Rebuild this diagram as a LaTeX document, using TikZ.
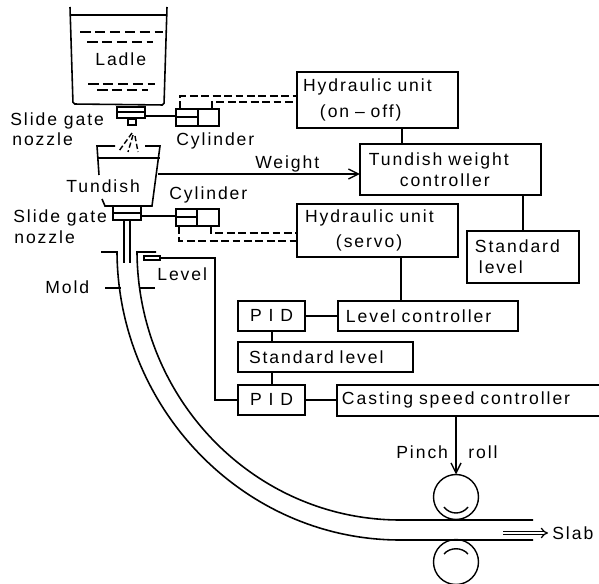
\documentclass[tikz,border=0pt]{standalone}
\usepackage{fontspec}
\setmainfont[LetterSpace=11]{Liberation Sans}
\usetikzlibrary{arrows.meta, positioning}
\tikzset{
	blk/.style   ={rectangle, draw=black, line width=0.9pt, inner xsep=0.1cm, inner ysep=0pt, outer sep=0pt, align=left, anchor=north west},
	pidbox/.style={blk, align=center, minimum width=1.34cm, minimum height=0.6cm},
	cylpart/.style={rectangle, draw=black, line width=0.9pt, inner sep=0pt, outer sep=0pt, minimum height=0.34cm, anchor=north west},
	gatebox/.style={rectangle, draw=black, line width=0.9pt, inner sep=0pt, outer sep=0pt, anchor=north west},
	roller/.style={circle, draw=black, line width=0.8pt, inner sep=0pt, outer sep=0pt, minimum size=0.9cm},
	lbl/.style   ={inner sep=0pt, anchor=base west},
	wire/.style  ={line width=0.9pt},
	oil/.style   ={line width=0.9pt, dash pattern=on 4.5pt off 2pt},
	melt/.style  ={line width=0.9pt, dash pattern=on 6pt off 2.5pt},
	sig/.style   ={-{Straight Barb[length=2mm,width=2mm]}, line width=0.8pt},
}
\begin{document}
\begin{tikzpicture}[x=0.02cm, y=-0.02cm, font=\fontsize{10}{12}\selectfont]
	\useasboundingbox (0,0) rectangle (599,584);
	% control boxes
	\node[blk, text width=3.02cm, minimum height=1.12cm] (hydon) at (297,72) {\hspace*{0.02cm}Hydraulic unit\\[3pt]\hspace*{0.36cm}(on -- off)};
	\node[blk, text width=3.42cm, minimum height=1.02cm, below right=0.32cm and 1.26cm of hydon.south west] (twc) {\hspace*{0.08cm}Tundish weight\\\hspace*{0.7cm}controller};
	\node[blk, text width=2.04cm, minimum height=1.04cm, below right=0.72cm and 2.14cm of twc.south west] (stdw) {\hspace*{0.06cm}Standard\\\hspace*{0.14cm}level};
	\node[blk, text width=3.02cm, minimum height=1.06cm, below right=1.52cm and 0cm of hydon.south west] (hyds) {\hspace*{0.06cm}Hydraulic unit\\[2pt]\hspace*{0.68cm}(servo)};
	\node[blk, text width=3.4cm, minimum height=0.6cm, below right=0.88cm and 0.82cm of hyds.south west] (lvl) {\hspace*{0.06cm}Level controller};
	\node[pidbox, left=0.66cm of lvl.north west, anchor=north east] (pida) {P I D};
	\node[blk, text width=3.3cm, minimum height=0.6cm, below right=0.22cm and 0cm of pida.south west] (stdl) {\hspace*{0.12cm}Standard level};
	\node[pidbox, below right=0.26cm and 0cm of stdl.south west] (pidb) {P I D};
	\node[blk, text width=5.12cm, minimum height=0.62cm, right=0.64cm of pidb.north east, anchor=north west] (cast) {Casting speed controller};
	\draw[wire] (hydon.south -| 402,0) -- (twc.north -| 402,0);
	\draw[wire] (twc.south -| stdw.north) -- (stdw.north);
	\draw[wire] (hyds.south -| 401,0) -- (lvl.north -| 401,0);
	\draw[wire] (pida) -- (lvl);
	\draw[wire] (pida.south -| 272,0) -- (stdl.north -| 272,0);
	\draw[wire] (stdl.south -| 272,0) -- (pidb.north -| 272,0);
	\draw[wire] (pidb) -- (pidb -| cast.west);
	% ladle
	\draw[wire, rounded corners=1pt] (70,7) -- (73,104) -- (164,105) -- (167,7);
	\draw[wire] (70,15) -- (167,15);
	\draw[melt] (80,32) -- (163,32);
	\draw[melt] (87,42) -- (153,42);
	\draw[melt] (88,84) -- (155,84);
	\draw[melt] (97,90) -- (148,90);
	\node[lbl] (ladle) at (95,66) {Ladle};
	% upper slide gate and cylinder
	\node[gatebox, minimum width=0.56cm, minimum height=0.22cm] (gatea) at (117,107) {};
	\draw[wire] (117,112) -- (145,112);
	\node[gatebox, minimum width=0.16cm, minimum height=0.12cm] (nozza) at (128,119) {};
	\node[cylpart, minimum width=0.44cm] (cyla) at (176,109) {};
	\node[cylpart, minimum width=0.42cm] (cylb) at (198,109) {};
	\draw[wire] (176,117) -- (198,117);
	\draw[wire] (gatea.east |- 0,116) -- (cyla.west |- 0,116);
	\draw[oil] (180,109) -- (180,96) -- (hydon.west |- 0,96);
	\draw[oil] (212,109) -- (212,102) -- (hydon.west |- 0,102);
	% stream
	\draw[line width=0.8pt, dash pattern=on 3pt off 1.5pt] (132,133) -- (119,151);
	\draw[line width=0.8pt, dash pattern=on 3pt off 1.5pt] (133,135) -- (128,152);
	\draw[line width=0.8pt, dash pattern=on 3pt off 1.5pt] (135,136) -- (138,152);
	% tundish
	\draw[wire] (115,146) -- (97,146) -- (99,175);
	\draw[wire] (145,146) -- (160,146) -- (152,206) -- (105,206) -- (102,199);
	\draw[wire] (97,158) -- (160,158);
	\coordinate (wallw) at (158,174);
	\draw[sig] (wallw) -- node[lbl, pos=0.64, anchor=base, yshift=0.1cm] (weight) {Weight} (wallw -| twc.west);
	\node[lbl] (tund) at (66,193) {Tundish};
	% lower slide gate and cylinder
	\node[gatebox, minimum width=0.56cm, minimum height=0.28cm] (gateb) at (113,206) {};
	\draw[wire] (113,213) -- (141,213);
	\node[cylpart, minimum width=0.42cm] (cylc) at (176,209) {};
	\node[cylpart, minimum width=0.44cm] (cyld) at (197,209) {};
	\draw[wire] (176,217) -- (197,217);
	\draw[wire] (gateb.east |- 0,216) -- (cylc.west |- 0,216);
	\draw[oil] (179,226) -- (179,241) -- (hyds.west |- 0,241);
	\draw[oil] (211,226) -- (211,233) -- (hyds.west |- 0,233);
	\draw[wire] (124,220) -- (124,263);
	\draw[wire] (130,220) -- (130,263);
	% mold and strand
	\draw[wire] (101,252) -- (117,252) .. controls (118,410) and (245,540) .. (400,540) -- (533,540);
	\draw[wire] (156,252) -- (137,252) .. controls (138,401) and (256,520) .. (400,520) -- (533,520);
	\coordinate (mlt) at (105,288);
	\coordinate (mrt) at (155,288);
	\draw[wire] (mlt) -- (121,288);
	\draw[wire] (140,288) -- (mrt);
	\node[gatebox, minimum width=0.32cm, minimum height=0.08cm] (sensor) at (144,256) {};
	\draw[wire] (sensor.east) -- (sensor.east -| 215,0) -- (pidb.west -| 215,0) -- (pidb.west);
	% rolls
	\node[roller] (rollu) at (456,497) {};
	\node[roller] (rolld) at (456,562) {};
	\draw[line width=0.8pt] (444,507) .. controls (450,515) and (462,515) .. (468,507);
	\draw[line width=0.8pt] (444,554) .. controls (450,547) and (462,547) .. (468,554);
	\draw[sig] (cast.south -| rollu.north) -- (rollu.north);
	% labels
	\node[lbl] (gatetxta) at (10,126) {Slide gate};
	\node[lbl] (nozztxta) at (12,146) {nozzle};
	\node[lbl] (cyltxta) at (176,146) {Cylinder};
	\node[lbl] (cyltxtb) at (169,200) {Cylinder};
	\node[lbl] (gatetxtb) at (13,223) {Slide gate};
	\node[lbl] (nozztxtb) at (14,244) {nozzle};
	\node[lbl] (mold) at (45,294) {Mold};
	\node[lbl] (level) at (157,281) {Level};
	\node[lbl] (pinch) at (396,459) {Pinch};
	\node[lbl] (roll) at (468,459) {roll};
	\node[lbl, anchor=west] (slab) at (552,533) {Slab};
	\coordinate (sarrow) at (503,533);
	\draw[line width=0.7pt, double, double distance=1.3pt, -{Implies}, shorten >=0.08cm] (sarrow) -- (slab.west);
\end{tikzpicture}
\end{document}
